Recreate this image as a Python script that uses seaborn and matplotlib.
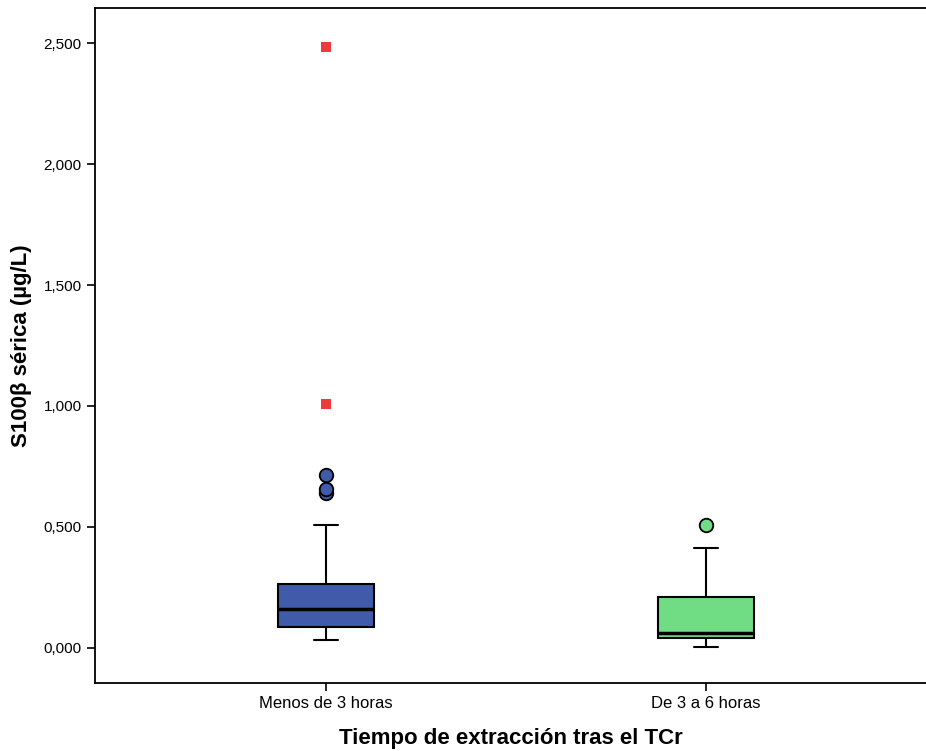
import matplotlib
matplotlib.use("Agg")
import matplotlib.pyplot as plt
import seaborn as sns
import pandas as pd
from matplotlib.ticker import FuncFormatter

categories = ["Menos de 3 horas", "De 3 a 6 horas"]
whisker_low = [0.033, 0.005]
q1 = [0.087, 0.043]
median = [0.161, 0.061]
q3 = [0.264, 0.212]
whisker_high = [0.508, 0.412]
outliers = [[0.639, 0.658, 0.715], [0.508]]
extremes = [[1.008, 2.483], []]
colors = ["#3F5BAA", "#70DD85"]
extreme_color = "#F03A3A"
yticks = [0.0, 0.5, 1.0, 1.5, 2.0, 2.5]

sns.set_style("white")
plt.rcParams['font.family'] = ['Liberation Sans', 'DejaVu Sans']

fig = plt.figure(figsize=(9.26, 7.51), dpi=100)
ax = fig.add_axes([95/926, 68/751, 831/926, 675/751])

stats = []
for i, c in enumerate(categories):
    stats.append(dict(label=c, whislo=whisker_low[i], q1=q1[i], med=median[i],
                      q3=q3[i], whishi=whisker_high[i], fliers=[]))

bp = ax.bxp(stats, positions=range(len(categories)), widths=0.252,
            patch_artist=True, showfliers=False,
            boxprops=dict(linewidth=1.5, edgecolor="black"),
            medianprops=dict(color="black", linewidth=2.5),
            whiskerprops=dict(color="black", linewidth=1.5),
            capprops=dict(color="black", linewidth=1.5),
            capwidths=0.062)
for patch, col in zip(bp["boxes"], colors):
    patch.set_facecolor(col)

rows = []
for i, c in enumerate(categories):
    for v in outliers[i]:
        rows.append(dict(pos=i, value=v, kind="out", cat=c))
df_out = pd.DataFrame(rows)
for i, c in enumerate(categories):
    sub = df_out[df_out["cat"] == c]
    sns.scatterplot(data=sub, x="pos", y="value", ax=ax, color=colors[i],
                    marker="o", s=95, edgecolor="black", linewidth=1.3,
                    zorder=5, legend=False)
rows = []
for i, c in enumerate(categories):
    for v in extremes[i]:
        rows.append(dict(pos=i, value=v))
df_ext = pd.DataFrame(rows)
sns.scatterplot(data=df_ext, x="pos", y="value", ax=ax, color=extreme_color,
                marker="s", s=55, edgecolor="none", zorder=5, legend=False)

ax.set_xlim(-0.608, 1.579)
ax.set_ylim(-0.145, 2.645)
ax.set_xticks(range(len(categories)))
ax.set_xticklabels(categories)
ax.set_yticks(yticks)
ax.yaxis.set_major_formatter(FuncFormatter(lambda v, p: f"{v:.3f}".replace(".", ",")))
ax.tick_params(axis="both", direction="out", length=6, width=1.2, color="black",
               bottom=True, left=True, labelcolor="black")
ax.tick_params(axis="y", labelsize=11)
ax.tick_params(axis="x", labelsize=12)
for s in ["top", "bottom", "left"]:
    ax.spines[s].set_visible(True)
    ax.spines[s].set_color("black")
    ax.spines[s].set_linewidth(1.3)
ax.spines["right"].set_visible(False)

ax.set_xlabel("Tiempo de extracción tras el TCr", fontsize=16, fontweight="bold",
              labelpad=12, color="black")
ax.set_ylabel("S100β sérica (µg/L)", fontsize=16, fontweight="bold",
              color="black", va="center")
ax.yaxis.set_label_coords((22 - 95) / 831, 0.5)

fig.savefig("out.png", dpi=100)
